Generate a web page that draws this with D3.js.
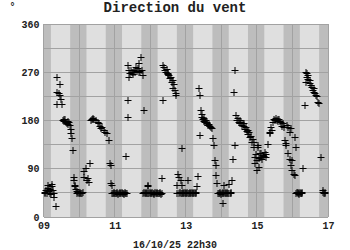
<!DOCTYPE html>
<html>
<head>
<meta charset="utf-8">
<script src="https://cdn.jsdelivr.net/npm/d3@7"></script>
<style>
  body { margin: 0; background: #fff; }
  svg { display: block; }
  text { font-family: "Liberation Mono", "DejaVu Sans Mono", monospace; font-weight: bold; fill: #222; }
</style>
</head>
<body>
<svg width="350" height="250"></svg>
<script>
// readings: [hour of day, direction in degrees]
const days = ["09", "10", "11", "12", "13", "14", "15", "16"];
const xTickLabels = ["09", "11", "13", "15", "17"];
const yTicks = [0, 90, 180, 270, 360];
const daylight = [5.25, 18.25]; // light band, hours

const dir09 = [[0.5,47],[1,45],[1.5,50],[2,44],[2.5,55],[3,60],[3.3,48],[3.8,52],[4.2,45],[4.7,42],[5.2,58],[5.6,62],[6,50],[6.5,45],[7,38],[7.9,20],
  [8.6,262],[10.8,249],[9.0,234],[10.1,232],[10.8,228],[11.7,221],[8.6,211],[12.2,211],
  [12.6,181],[13.3,182],[13.8,180],[14.5,182],[15.0,178],[15.5,176],[16.0,180],[16.4,174],[16.9,178],
  [17.6,172],[18.0,164],[18.4,157],[18.8,147],[19.6,125],
  [20.2,75],[20.4,69],[20.9,60],[21.2,57],[21.6,52],[22.0,48],[22.5,45],[23.0,46],[23.5,44]];
const dir10 = [[0,45],[0.5,46],[1,44],[1.5,45],[2,47],
  [3.0,85],[3.2,75],[4.1,91],[5.3,69],[5.8,72],[6.3,65],[7.0,101],
  [7.6,181],[8.2,183],[8.8,184],[9.4,182],[10.0,183],[10.8,181],
  [12.5,178],[13.2,175],[13.9,170],[14.5,166],[15.2,168],
  [16.4,162],[17.4,158],[18.4,156],[19.8,143],
  [20.5,100],[21.0,97],[21.5,63],[21.8,60],[22.0,45],[22.5,44],[23.0,46],[23.5,45]];
const dir11 = [[0,45],[0.5,44],[1,46],[1.5,45],[2,43],[2.5,45],[3,47],[3.5,44],[4,45],[4.5,46],[5,44],[5.5,45],[6,43],[6.5,45],[7,46],[7.5,44],[8,45],
  [7.5,113],[8.4,187],[8.6,218],
  [8.4,283],[9.2,262],[9.6,275],[10.2,268],[10.6,274],[11.2,270],[11.8,271],[12.4,266],[12.9,274],[13.5,270],[14.0,280],[14.6,272],[15.2,278],[15.8,270],[16.3,287],[16.8,272],[17.4,298],[18.1,274],[18.6,265],
  [19.3,200],
  [19.0,45],[19.5,46],[20,44],[20.5,45],[21,47],[21.5,44],[21.9,57],[22.3,60],[22.5,45],[23,44],[23.5,46]];
const dir12 = [[0,45],[0.5,44],[1,46],[1.5,45],[2,43],[2.5,45],[3,46],[3.5,44],[4,45],[4.5,47],[5,45],[5.5,44],[6,46],[6.5,45],[7,43],[7.6,45],
  [7.8,72],[8.0,218],
  [8.2,283],[9.0,279],[9.5,274],[10.2,271],[10.8,276],[11.4,269],[12.0,266],[12.5,265],[13.1,260],[13.7,262],[14.2,252],[14.8,255],[15.3,240],[15.9,249],[16.4,236],[16.9,231],[17.4,227],
  [21.2,128],
  [17.5,45],[18,60],[18.5,81],[18.8,45],[19.3,75],[19.6,46],[20.2,44],[20.4,69],[20.8,45],[21.1,60],[21.6,46],[22,44],[22.5,45],[23,47],[23.5,44]];
const dir13 = [[0,45],[0.5,46],[0.9,69],[1.2,44],[1.8,45],[2.3,47],[2.8,44],[3.3,45],[3.8,46],[4.3,44],[4.8,45],[5.3,47],[5.8,44],[6.3,45],[6.8,46],[7.5,58],[7.9,76],
  [8.9,240],[9.1,227],[9.6,153],
  [10.0,200],[10.4,192],[10.8,186],[11.3,183],[11.8,180],[12.3,184],[12.8,178],[13.3,181],[13.8,176],[14.3,178],[14.8,172],[15.4,174],[16,170],[16.6,168],[17.2,166],
  [17.8,147],[18.8,134],[19.6,106],[20.0,97],[20.2,78],[21.0,64],
  [21.5,45],[22,44],[22.5,46],[23,45],[23.5,43]];
const dir14 = [[0,45],[0.5,46],[0.7,26],[1,44],[1.5,45],[1.8,60],[2,47],[2.5,44],[3,45],[3.5,46],[4,44],[4.5,45],[5,62],[5.5,45],[6,46],[6.3,44],[7.2,69],
  [7.4,109],[8.1,234],[8.6,274],[9.2,134],
  [9.8,190],[10.4,181],[11,185],[11.5,178],[12,181],[12.6,176],[13.1,178],[13.7,172],[14.2,175],[14.8,170],[15.3,175],[15.9,165],[16.4,168],[17,160],[17.5,162],[18,155],[18.6,158],[19.2,150],[19.8,152],[20.4,140],[20.9,145],[21.5,130],[22,140],
  [22.3,100],[22.6,112],[23.1,118],[23.5,106],[23.8,88]];
const dir15 = [[0.3,134],[0.5,131],[1.0,110],[1.2,94],[1.6,119],[2.2,112],[2.6,119],[3.2,108],[3.9,116],[4.5,114],[5,122],[5.6,118],[6.1,112],
  [7.3,137],[8.3,159],[8.8,156],[9.5,168],[9.9,162],[10.6,178],[11.2,183],[11.7,181],[12.4,184],[13,181],[13.6,183],[14.2,180],[14.8,182],[15.4,180],[16.2,178],[16.8,170],[17.4,175],[18,168],
  [18.5,143],[19.1,138],[19.6,134],[20.2,172],[20.8,168],[21.9,159],[23,166],
  [21,119],[22.2,109],[23.4,107],[22.5,97],[23.6,88]];
const dir16 = [[0.5,81],[1.7,78],[1.5,150],[1.9,131],
  [2.4,45],[2.8,47],[3.2,44],[3.6,46],[4,45],[4.4,43],[4.8,46],[5.2,45],[5.6,44],[6,47],[6.4,45],[6.8,91],
  [8,209],[8.5,252],[9,271],[9.3,268],[9.7,262],[10.1,265],[10.5,258],[11.2,255],[11.6,250],[12.3,246],[12.8,242],[13.4,237],[14,240],[14.5,234],[15,232],[15.6,228],[16.2,225],[16.8,215],[17.9,212],
  [19.2,112],[20.3,50],[20.6,47],[21,44],[21.4,45],[21.8,46]];
const readings = [dir09, dir10, dir11, dir12, dir13, dir14, dir15, dir16];

const svg = d3.select("svg");
const margin = { top: 24, right: 22, bottom: 33, left: 43.5 };
const width = 350 - margin.left - margin.right;
const height = 250 - margin.top - margin.bottom;

const dayDate = (d) => new Date(Date.UTC(2025, 9, +d));
const x = d3.scaleUtc()
  .domain([dayDate("09"), dayDate("17")])
  .range([0, width]);
const y = d3.scaleLinear().domain([0, 360]).range([height, 0]);

const graph = svg.append("g")
  .attr("transform", `translate(${margin.left},${margin.top})`);

// night / day bands
graph.append("rect")
  .attr("width", width).attr("height", height)
  .attr("fill", "#bdbdbd");
graph.selectAll(".day")
  .data(days)
  .enter()
  .append("rect")
  .attr("x", (d) => x(d3.utcHour.offset(dayDate(d), daylight[0])))
  .attr("width", (d) => x(d3.utcHour.offset(dayDate(d), daylight[1])) - x(d3.utcHour.offset(dayDate(d), daylight[0])))
  .attr("height", height)
  .attr("fill", "#dfdfdf");

// grid
const grid = graph.append("g")
  .attr("stroke", "#a2a2a2")
  .attr("shape-rendering", "crispEdges");
grid.selectAll(".h")
  .data(d3.range(0, 361, 45))
  .enter()
  .append("line")
  .attr("x1", 0).attr("x2", width)
  .attr("y1", (d) => y(d)).attr("y2", (d) => y(d));
grid.selectAll(".v")
  .data(days.concat(["17"]))
  .enter()
  .append("line")
  .attr("x1", (d) => x(dayDate(d))).attr("x2", (d) => x(dayDate(d)))
  .attr("y1", 0).attr("y2", height);

// points
const points = readings.flatMap((list, i) =>
  list.map(([h, deg]) => ({ t: d3.utcMinute.offset(dayDate(days[i]), Math.round(h * 60)), deg })));

graph.append("g")
  .selectAll("path")
  .data(points)
  .enter()
  .append("path")
  .attr("transform", (d) => `translate(${Math.round(x(d.t)) + 0.5},${Math.round(y(d.deg)) + 0.5})`)
  .attr("d", "M-3.5,0H3.5M0,-3.5V3.5")
  .attr("stroke", "#000")
  .attr("stroke-width", 1)
  .attr("fill", "none");

// axes
const xAxis = d3.axisBottom(x)
  .tickValues(xTickLabels.map(dayDate))
  .tickFormat(d3.utcFormat("%d"))
  .tickSize(0)
  .tickPadding(5);
const yAxis = d3.axisLeft(y)
  .tickValues(yTicks)
  .tickSize(0)
  .tickPadding(4);

const xAxisGroup = graph.append("g")
  .attr("transform", `translate(0,${height})`)
  .call(xAxis);
const yAxisGroup = graph.append("g").call(yAxis);

[xAxisGroup, yAxisGroup].forEach((g) => {
  g.select(".domain").remove();
  g.selectAll("text").attr("font-size", 10).attr("fill", "#222");
  g.attr("font-family", null);
});

svg.append("text")
  .attr("x", 175).attr("y", 12)
  .attr("text-anchor", "middle")
  .attr("font-size", 14)
  .text("Direction du vent");

svg.append("text")
  .attr("x", 12.5).attr("y", 10)
  .attr("text-anchor", "middle")
  .attr("font-size", 10)
  .attr("font-weight", "normal")
  .text("°");

svg.append("text")
  .attr("x", 175).attr("y", 247.5)
  .attr("text-anchor", "middle")
  .attr("font-size", 10)
  .text("16/10/25 22h30");
</script>
</body>
</html>
